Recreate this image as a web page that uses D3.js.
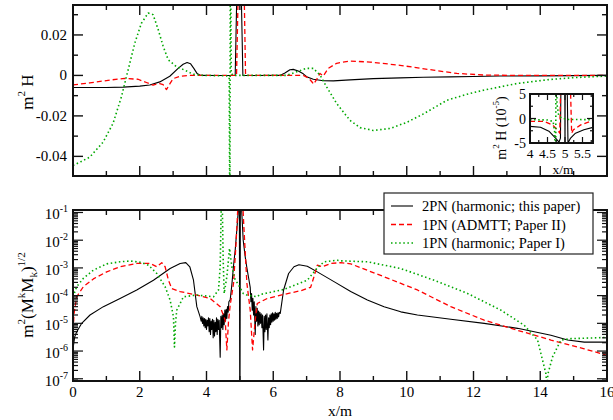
<!DOCTYPE html>
<html>
<head>
<meta charset="utf-8">
<script src="https://cdn.jsdelivr.net/npm/d3@7"></script>
<style>
  body { margin: 0; background: #fff; }
  svg { display: block; }
  text { font-family: "Liberation Serif", "Times New Roman", serif; fill: #000; }
</style>
</head>
<body>
<svg id="chart" width="613" height="420"></svg>
<script>
// ---------- data ----------
const xTickValues = [0, 2, 4, 6, 8, 10, 12, 14, 16];
const topTickValues = [-0.04, -0.02, 0, 0.02];
const topTickLabels = ["-0.04", "-0.02", "0", "0.02"];
const logTickExponents = [-7, -6, -5, -4, -3, -2, -1];
const insetXTicks = [4, 4.5, 5, 5.5];
const insetXLabels = ["4", "4.5", "5", "5.5"];
const insetYTicks = [-5, 0, 5];
const legendLabels = ["2PN (harmonic; this paper)", "1PN (ADMTT; Paper II)", "1PN (harmonic; Paper I)"];

// m^2 H along the axis: [x/m, value]
const h2PN = [[0,-0.0060],[0.5,-0.0060],[1.0,-0.0060],[1.5,-0.0058],[2.0,-0.0053],[2.3,-0.0047],[2.6,-0.0032],
  [2.9,-0.0004],[3.15,0.0035],[3.3,0.0055],[3.42,0.0064],[3.52,0.0058],[3.62,0.0035],[3.72,0.0009],[3.82,0.0],
  [4.3,-0.00001],[4.6,-0.00003],[4.86,-0.00005],[4.92,0.05],[5.03,0.05],[5.09,-0.00005],[5.4,-0.00002],[6.2,0],
  [6.35,0.0012],[6.5,0.0028],[6.6,0.0030],[6.75,0.0022],[6.9,0.0008],[7.0,-0.0006],[7.2,-0.0019],[7.5,-0.0026],
  [7.8,-0.0027],[8.3,-0.0022],[9.0,-0.0016],[9.8,-0.0012],[10.5,-0.0009],[11.3,-0.0007],[12.0,-0.0005],
  [12.8,-0.0003],[14,-0.0002],[16,0]];
const h1PNadm = [[0,-0.0047],[0.5,-0.0037],[1.1,-0.0023],[1.55,-0.0015],[1.95,-0.0019],[2.2,-0.0035],[2.4,-0.0048],
  [2.5,-0.0043],[2.6,-0.0040],[2.7,-0.0046],[2.8,-0.0070],[2.9,-0.0042],[3.0,-0.0016],[3.2,-0.0004],[3.5,0],
  [4.9,0],[4.96,0.05],[5.12,0.05],[5.17,0],[6.9,0],[7.05,-0.0012],[7.15,-0.0030],[7.21,-0.0043],[7.3,-0.0020],
  [7.4,0.0010],[7.5,-0.0003],[7.65,0.0035],[7.9,0.0060],[8.3,0.0071],[8.9,0.0066],[9.8,0.0050],[10.8,0.0026],
  [11.5,0.0010],[12.3,0.0002],[13.3,0],[16,0]];
const h1PNharm = [[0,-0.0445],[0.25,-0.0425],[0.5,-0.0404],[0.9,-0.0330],[1.2,-0.0237],[1.45,-0.0106],[1.65,0.0026],
  [1.85,0.0159],[2.05,0.0258],[2.25,0.0308],[2.4,0.0300],[2.55,0.0228],[2.7,0.0145],[2.85,0.0078],[3.1,0.0043],
  [3.35,0.0026],[3.6,0.0006],[3.9,0],[4.6,-0.0002],[4.68,-0.0010],[4.70,-0.08],[4.715,0.08],[4.74,0.0010],
  [4.8,0],[6.4,0],[6.7,0.0018],[7.0,0.0035],[7.2,0.0035],[7.4,0.0002],[7.6,-0.0057],[7.9,-0.0139],[8.3,-0.0222],
  [8.6,-0.0258],[9.0,-0.0272],[9.5,-0.0262],[10.0,-0.0232],[10.5,-0.0190],[11.2,-0.0123],[11.8,-0.0093],
  [12.3,-0.0073],[13.3,-0.0040],[14.3,-0.0020],[15,-0.0011],[16,-0.0003]];

// m^2 H near the hole, in units of 1e-5
const inset2PN = [[4.0,-1.6],[4.3,-1.8],[4.54,-2.6],[4.73,-4.0],[4.83,-4.8],[4.87,-4.0],[4.885,8],[4.995,8],
  [5.0,-8],[5.005,8],[5.06,8],[5.085,-5.0],[5.16,-4.0],[5.3,-3.0],[5.54,-2.3],[5.8,-1.8]];
const inset1PNadm = [[4.0,-0.6],[4.4,-0.6],[4.64,-1.3],[4.78,-2.3],[4.85,-3.0],[4.88,8],[5.15,8],[5.19,-3.0],
  [5.24,-2.3],[5.45,-1.3],[5.73,-0.6],[5.8,-0.5]];
const inset1PNharm = [[4.0,-0.24],[4.5,-0.3],[4.66,-0.6],[4.71,-3],[4.73,-40],[4.745,40],[4.77,3],[4.82,0.6],
  [4.9,0.1],[5.1,-0.2],[5.8,-0.24]];

// m^2 (M^k M_k)^(1/2) along the axis
const m2PN = [[0,1.2e-6],[0.05,3.2e-6],[0.11,4.9e-6],[0.26,1.0e-5],[0.51,2.0e-5],[0.91,4.0e-5],[1.41,7.9e-5],
  [1.91,1.6e-4],[2.41,3.6e-4],[2.91,9.5e-4],[3.21,1.45e-3],[3.38,1.55e-3],[3.5,1.1e-3],[3.61,3.6e-4],
  [3.71,4.0e-5],[3.81,1.7e-5],[3.84,1.2e-5],[3.86,1.8e-5],[3.88,1.0e-5],[3.90,1.6e-5],[3.92,8e-6],[3.94,1.5e-5],
  [3.96,7e-6],[3.98,1.4e-5],[4.00,6e-6],[4.02,1.3e-5],[4.04,8e-6],[4.06,1.6e-5],[4.08,5e-6],[4.10,1.5e-5],
  [4.12,4e-6],[4.14,1.2e-5],[4.16,6e-6],[4.18,1.4e-5],[4.20,3e-6],[4.22,1.3e-5],[4.24,3.5e-6],[4.26,1.1e-5],
  [4.28,5e-6],[4.30,1.6e-5],[4.32,4e-6],[4.34,1.4e-5],[4.36,6e-6],[4.38,1.3e-5],[4.41,6e-7],[4.43,1.8e-5],
  [4.45,7e-6],[4.47,2.0e-5],[4.49,6e-6],[4.51,2.2e-5],[4.53,9e-6],[4.55,3e-5],[4.57,1.2e-5],[4.59,3.2e-5],
  [4.61,1.5e-5],[4.63,4e-5],[4.65,2.5e-5],[4.67,6e-5],[4.71,7e-5],
  [4.76,2.5e-4],[4.81,1.2e-3],[4.86,4.4e-3],[4.91,2.5e-2],[4.96,0.15],[4.985,0.3],[5.0,1e-10],[5.015,0.3],
  [5.05,0.15],[5.1,1e-2],[5.16,2.5e-3],[5.21,1.0e-3],[5.26,4.5e-4],[5.31,2.0e-4],[5.33,6e-5],[5.35,1.2e-4],
  [5.37,3e-5],[5.39,8e-5],[5.41,2e-5],[5.43,6e-5],[5.46,4e-6],[5.48,4e-5],[5.50,1.2e-5],[5.52,3.5e-5],
  [5.54,8e-6],[5.56,2.8e-5],[5.58,9e-6],[5.60,2.5e-5],[5.62,1e-5],[5.64,2.2e-5],[5.66,7e-6],[5.68,2e-5],
  [5.71,1.1e-6],[5.73,1.8e-5],[5.75,5e-6],[5.77,2.0e-5],[5.79,6e-6],[5.81,2.2e-5],[5.84,2.5e-6],[5.86,1.6e-5],
  [5.88,7e-6],[5.90,2e-5],[5.92,9e-6],[5.94,2.2e-5],[5.96,1.1e-5],[5.98,2.4e-5],[6.00,1.2e-5],[6.02,2.2e-5],
  [6.04,1.3e-5],[6.06,2.5e-5],[6.08,1.4e-5],[6.10,2.3e-5],[6.12,1.5e-5],[6.14,2.4e-5],[6.16,1.7e-5],
  [6.18,2.5e-5],[6.21,2.3e-5],[6.31,1.6e-4],[6.46,6.3e-4],[6.62,1.1e-3],[6.77,1.3e-3],[7.02,1.15e-3],
  [7.32,7.2e-4],[7.82,3.2e-4],[8.32,1.4e-4],[8.82,6.9e-5],[9.32,4.0e-5],[9.82,2.6e-5],[10.32,2.0e-5],
  [11.32,1.4e-5],[12.32,1.0e-5],[13.32,6.6e-6],[14.32,3.7e-6],[14.82,2.5e-6],[15.32,2.1e-6],[16,2.1e-6]];
const m1PNadm = [[0,3e-6],[0.03,2.2e-5],[0.11,9e-5],[0.31,2.1e-4],[0.61,4.0e-4],[1.01,7.2e-4],[1.41,1.1e-3],
  [1.91,1.45e-3],[2.31,1.45e-3],[2.51,1.1e-3],[2.66,1.55e-3],[2.76,1.1e-3],[2.86,3.6e-4],[2.96,1.8e-4],
  [3.21,1.4e-4],[3.71,1.05e-4],[4.11,7.9e-5],[4.41,4.0e-5],[4.56,1.3e-5],[4.61,1.1e-6],[4.66,1.2e-5],
  [4.71,4.5e-5],[4.81,2.8e-4],[4.88,6e-3],[4.92,0.05],[4.95,0.3],[5.08,0.3],[5.12,0.03],[5.21,2.8e-4],
  [5.31,3.0e-5],[5.38,1.1e-6],[5.46,1.3e-5],[5.52,5.2e-5],[5.82,7.9e-5],[6.31,1.1e-4],[6.82,1.5e-4],
  [7.12,2.0e-4],[7.22,4.8e-4],[7.32,1.26e-3],[7.47,1.1e-3],[7.72,1.45e-3],[8.02,1.55e-3],[8.32,1.4e-3],
  [9.32,4.8e-4],[10.32,1.6e-4],[11.32,4.0e-5],[12.32,1.3e-5],[13.32,5.6e-6],[14.32,2.5e-6],[15.32,1.2e-6],
  [16,7e-7]];
const m1PNharm = [[0,9e-5],[0.11,2.1e-4],[0.31,4.2e-4],[0.61,8.3e-4],[1.01,1.4e-3],[1.41,1.66e-3],[1.71,1.78e-3],
  [2.01,1.6e-3],[2.26,1.26e-3],[2.51,6.3e-4],[2.76,2.1e-4],[2.91,6.9e-5],[3.01,1.7e-5],[3.04,1.4e-6],[3.07,1e-5],
  [3.11,3.0e-5],[3.31,9.1e-5],[3.71,1.05e-4],[4.21,9.1e-5],[4.36,1.6e-4],[4.41,1.1e-3],[4.445,0.3],[4.47,0.3],
  [4.50,2e-3],[4.53,1.2e-4],[4.61,4.8e-4],[4.69,5.1e-3],[4.76,1.1e-3],[4.85,4e-4],[5.0,2e-4],[5.1,1.2e-4],
  [5.21,1.05e-4],[5.51,9.1e-5],[5.61,1.1e-4],[6.31,1.66e-4],[7.02,3.6e-4],[7.32,1.0e-3],[7.52,1.66e-3],
  [7.92,1.9e-3],[8.02,1.8e-3],[8.82,1.66e-3],[9.82,9.5e-4],[10.82,3.6e-4],[11.82,1.2e-4],[12.82,3.0e-5],
  [13.52,8.5e-6],[13.92,2.5e-6],[14.17,1.5e-7],[14.2,5e-8],[14.23,1.5e-7],[14.37,6.2e-7],[14.62,2.5e-6],
  [14.92,2.8e-6],[16,3.1e-6]];

// ---------- layout ----------
const svg = d3.select("#chart");
const L = 73, R = 607;
const topBox = {y0: 5, y1: 176};
const botBox = {y0: 210, y1: 381};
const inset = {x0: 530, x1: 593, y0: 94, y1: 143};

const x = d3.scaleLinear().domain([0, 16]).range([L, R]);
const yTop = d3.scaleLinear().domain([-0.0497, 0.0348]).range([topBox.y1, topBox.y0]);
const yBot = d3.scaleLog().domain([8.3e-8, 0.123]).range([botBox.y1, botBox.y0]);
const xIn = d3.scaleLinear().domain([4, 5.8]).range([inset.x0, inset.x1]);
const yIn = d3.scaleLinear().domain([-5, 5]).range([inset.y1, inset.y0]);

const styles = [
  {color: "#000", width: 1.1, dash: null},
  {color: "#ff0000", width: 1.3, dash: "5,3"},
  {color: "#00a800", width: 1.6, dash: "1.5,2.6"}
];
const AX = "#111";

function clip(id, x0, y0, x1, y1) {
  svg.append("clipPath").attr("id", id).append("rect")
    .attr("x", x0).attr("y", y0).attr("width", x1 - x0).attr("height", y1 - y0);
}
clip("cTop", L, topBox.y0, R, topBox.y1);
clip("cBot", L, botBox.y0, R, botBox.y1);
clip("cIn", inset.x0, inset.y0, inset.x1, inset.y1);

function drawCurves(clipId, sx, sy, sets) {
  const g = svg.append("g").attr("clip-path", `url(#${clipId})`);
  const line = d3.line().x(d => sx(d[0])).y(d => sy(d[1]));
  sets.forEach((data, i) => {
    const s = styles[i];
    g.append("path").datum(data).attr("d", line)
      .attr("fill", "none").attr("stroke", s.color).attr("stroke-width", s.width)
      .attr("stroke-dasharray", s.dash).attr("stroke-linejoin", "round");
  });
}

function tick(x1, y1, x2, y2, w) {
  svg.append("line").attr("x1", x1).attr("y1", y1).attr("x2", x2).attr("y2", y2)
    .attr("stroke", AX).attr("stroke-width", w || 1.4);
}

function xTicksFor(box) {
  d3.range(0, 17, 1).forEach(v => {
    const len = v % 2 === 0 ? 10 : 5;
    const px = x(v);
    tick(px, box.y1, px, box.y1 - len);
    tick(px, box.y0, px, box.y0 + len);
  });
}

function frame(x0, y0, x1, y1, w) {
  svg.append("rect").attr("x", x0).attr("y", y0).attr("width", x1 - x0).attr("height", y1 - y0)
    .attr("fill", "none").attr("stroke", AX).attr("stroke-width", w);
}

// ---------- top panel ----------
drawCurves("cTop", x, yTop, [h2PN, h1PNadm, h1PNharm]);
xTicksFor(topBox);
d3.range(-0.04, 0.035, 0.01).forEach(v => {
  const major = Math.abs(Math.round(v * 100)) % 2 === 0;
  const len = major ? 10 : 5;
  const py = yTop(v);
  tick(L, py, L + len, py);
  tick(R, py, R - len, py);
});
topTickValues.forEach((v, i) => {
  svg.append("text").attr("x", 67).attr("y", yTop(v) + 5).attr("text-anchor", "end")
    .attr("font-size", 15).text(topTickLabels[i]);
});
frame(L, topBox.y0, R, topBox.y1, 2);

// y title of top panel
{
  const t = svg.append("text").attr("transform", "translate(33,92) rotate(-90)")
    .attr("text-anchor", "middle").attr("font-size", 17);
  t.append("tspan").text("m");
  t.append("tspan").attr("font-size", 11).attr("dy", -8).text("2");
  t.append("tspan").attr("dy", 8).text(" H");
}

// ---------- inset ----------
svg.append("rect").attr("x", inset.x0).attr("y", inset.y0).attr("width", inset.x1 - inset.x0)
  .attr("height", inset.y1 - inset.y0).attr("fill", "#fff");
drawCurves("cIn", xIn, yIn, [inset2PN, inset1PNadm, inset1PNharm]);
d3.range(4, 5.81, 0.25).forEach(v => {
  const major = Math.abs(v * 2 - Math.round(v * 2)) < 1e-6;
  const len = major ? 6 : 3;
  tick(xIn(v), inset.y1, xIn(v), inset.y1 - len, 1.2);
  tick(xIn(v), inset.y0, xIn(v), inset.y0 + len, 1.2);
});
d3.range(-5, 5.01, 2.5).forEach(v => {
  const major = v % 5 === 0;
  const len = major ? 6 : 3;
  tick(inset.x0, yIn(v), inset.x0 + len, yIn(v), 1.2);
  tick(inset.x1, yIn(v), inset.x1 - len, yIn(v), 1.2);
});
frame(inset.x0, inset.y0, inset.x1, inset.y1, 2);
insetYTicks.forEach(v => {
  svg.append("text").attr("x", 526).attr("y", yIn(v) + 5).attr("text-anchor", "end")
    .attr("font-size", 14).text(v);
});
insetXTicks.forEach((v, i) => {
  svg.append("text").attr("x", xIn(v)).attr("y", 158).attr("text-anchor", "middle")
    .attr("font-size", 13.5).text(insetXLabels[i]);
});
svg.append("text").attr("x", 563).attr("y", 173.5).attr("text-anchor", "middle")
  .attr("font-size", 13.5).text("x/m");
{
  const t = svg.append("text").attr("transform", "translate(506,128) rotate(-90)")
    .attr("text-anchor", "middle").attr("font-size", 14);
  t.append("tspan").text("m");
  t.append("tspan").attr("font-size", 9).attr("dy", -7).text("2");
  t.append("tspan").attr("dy", 7).text(" H (10");
  t.append("tspan").attr("font-size", 9).attr("dy", -7).text("-5");
  t.append("tspan").attr("dy", 7).text(")");
}

// ---------- bottom panel ----------
drawCurves("cBot", x, yBot, [m2PN, m1PNadm, m1PNharm]);
xTicksFor(botBox);
logTickExponents.concat([-8]).forEach(e => {
  for (let k = 1; k <= 9; k++) {
    const v = k * Math.pow(10, e);
    const [lo, hi] = yBot.domain();
    if (v < lo || v > hi) continue;
    const len = k === 1 ? 10 : 5;
    const py = yBot(v);
    tick(L, py, L + len, py, 1.2);
    tick(R, py, R - len, py, 1.2);
  }
});
logTickExponents.forEach(e => {
  const t = svg.append("text").attr("x", 68).attr("y", yBot(Math.pow(10, e)) + 7)
    .attr("text-anchor", "end").attr("font-size", 15);
  t.append("tspan").text("10");
  t.append("tspan").attr("font-size", 10).attr("dy", -7).text(String(e));
});
frame(L, botBox.y0, R, botBox.y1, 2);

xTickValues.forEach(v => {
  svg.append("text").attr("x", x(v)).attr("y", 397).attr("text-anchor", "middle")
    .attr("font-size", 15).text(v);
});
svg.append("text").attr("x", x(8)).attr("y", 416).attr("text-anchor", "middle")
  .attr("font-size", 15.5).text("x/m");

{
  const t = svg.append("text").attr("transform", "translate(33,295) rotate(-90)")
    .attr("text-anchor", "middle").attr("font-size", 17);
  t.append("tspan").text("m");
  t.append("tspan").attr("font-size", 11).attr("dy", -8).text("2");
  t.append("tspan").attr("dy", 8).text("(M");
  t.append("tspan").attr("font-size", 11).attr("dy", -8).text("k");
  t.append("tspan").attr("dy", 8).text("M");
  t.append("tspan").attr("font-size", 11).attr("dy", 4).text("k");
  t.append("tspan").attr("dy", -4).text(")");
  t.append("tspan").attr("font-size", 11).attr("dy", -8).text("1/2");
}

// ---------- legend ----------
{
  const lg = svg.append("g");
  lg.append("rect").attr("x", 384).attr("y", 193).attr("width", 209).attr("height", 61)
    .attr("fill", "#fff").attr("stroke", "#222").attr("stroke-width", 1.2);
  const rows = [206, 224.5, 243];
  legendLabels.forEach((lab, i) => {
    const s = styles[i];
    lg.append("line").attr("x1", 391).attr("x2", 413).attr("y1", rows[i]).attr("y2", rows[i])
      .attr("stroke", s.color).attr("stroke-width", s.width).attr("stroke-dasharray", s.dash);
    lg.append("text").attr("x", 422).attr("y", rows[i] + 5).attr("font-size", 14.5).text(lab);
  });
}
</script>
</body>
</html>
